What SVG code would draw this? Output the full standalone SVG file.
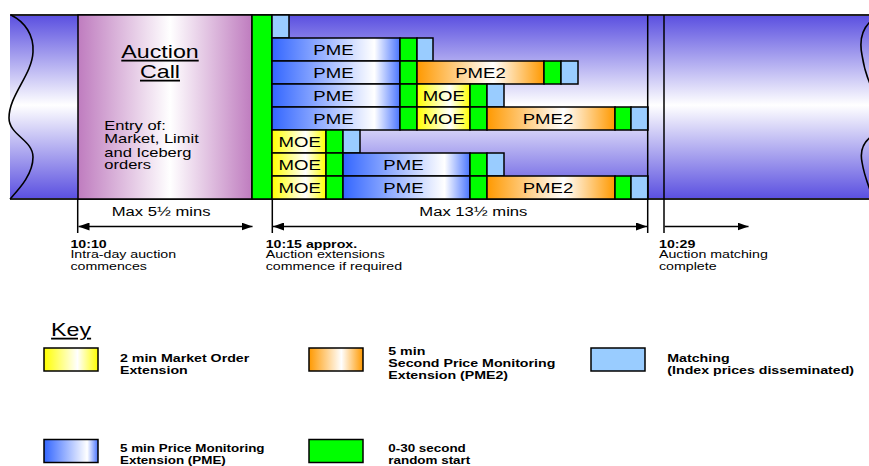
<svg xmlns="http://www.w3.org/2000/svg" width="869" height="466" viewBox="0 0 869 466">
  <style>
    text { font-family: "Liberation Sans", Arial, sans-serif; fill: #000; }
    .box { stroke: #000; stroke-width: 1.5; }
    .g { fill: #00ff00; }
    .lb { fill: #99ccff; }
    .pme { fill: url(#gPME); }
    .moe { fill: url(#gMOE); }
    .pme2 { fill: url(#gPME2); }
    .lbl { font-size: 14.4px; text-anchor: middle; }
    .tl { font-size: 11px; }
    .b { font-weight: bold; }
    .key { font-size: 11px; font-weight: bold; }
    .key.low { font-size: 10.4px; }
    .wave { fill: none; stroke: #000; stroke-width: 1.6; }
    .edge { stroke: #222; stroke-width: 2; }
    .tick { stroke: #000; stroke-width: 1.5; }
    .arrow { stroke: #000; stroke-width: 1.5; fill: none; }
  </style>
  <defs>
    <linearGradient id="gBand" x1="0" y1="0" x2="0" y2="1">
      <stop offset="0" stop-color="#5a4fe0"/>
      <stop offset="0.49" stop-color="#ffffff"/>
      <stop offset="1" stop-color="#5a4fe0"/>
    </linearGradient>
    <linearGradient id="gCall" x1="0" y1="0" x2="1" y2="0">
      <stop offset="0" stop-color="#bf7cbf"/>
      <stop offset="0.53" stop-color="#ffffff"/>
      <stop offset="1" stop-color="#bf7cbf"/>
    </linearGradient>
    <linearGradient id="gPME" x1="0" y1="0" x2="1" y2="0">
      <stop offset="0" stop-color="#3366ff"/>
      <stop offset="0.8" stop-color="#ffffff"/>
      <stop offset="1" stop-color="#4a75ff"/>
    </linearGradient>
    <linearGradient id="gMOE" x1="0" y1="0" x2="1" y2="0">
      <stop offset="0" stop-color="#ffff00"/>
      <stop offset="0.62" stop-color="#ffffff"/>
      <stop offset="1" stop-color="#ffff00"/>
    </linearGradient>
    <linearGradient id="gPME2" x1="0" y1="0" x2="1" y2="0">
      <stop offset="0" stop-color="#ff9900"/>
      <stop offset="0.6" stop-color="#ffffff"/>
      <stop offset="1" stop-color="#ff9900"/>
    </linearGradient>
    <marker id="head" viewBox="0 0 11 8" refX="11" refY="4" markerWidth="11" markerHeight="8" markerUnits="userSpaceOnUse" orient="auto-start-reverse">
      <path d="M0,0 L11,4 L0,8 Z" fill="#000"/>
    </marker>
  </defs>

  <!-- timeline band -->
  <g id="band">
    <rect x="10" y="15" width="870" height="184" fill="url(#gBand)"/>
    <line class="edge" x1="10" y1="15" x2="869" y2="15"/>
    <line class="edge" x1="10" y1="199" x2="869" y2="199"/>
    <path class="wave" d="M11,15 C25,22 34,35 33,52 C32,75 9,95 9,118 C9,135 33,140 33,157 C33,175 18,190 10,199"/>
    <path class="wave" d="M872,20 C860,30 860,45 862,55 C864,68 868,80 872,88"/>
    <path class="wave" d="M872,136 C862,143 860,152 862,162 C864,175 868,185 872,195"/>
  </g>

  <!-- auction call period -->
  <g id="auction-call">
    <rect class="box" x="78" y="15" width="174" height="184" fill="url(#gCall)"/>
  </g>

  <!-- random start after auction call -->
  <g id="random-start">
    <rect class="box g" x="252" y="15" width="20" height="184"/>
  </g>

  <!-- extension scenarios -->
  <g id="row0">
    <rect class="box lb" x="272" y="15" width="17" height="23"/>
  </g>
  <g id="row1">
    <rect class="box pme" x="272" y="38" width="128" height="23"/>
    <rect class="box g" x="400" y="38" width="17" height="23"/>
    <rect class="box lb" x="417" y="38" width="16" height="23"/>
  </g>
  <g id="row2">
    <rect class="box pme" x="272" y="61" width="128" height="23"/>
    <rect class="box g" x="400" y="61" width="17" height="23"/>
    <rect class="box pme2" x="417" y="61" width="127" height="23"/>
    <rect class="box g" x="544" y="61" width="17" height="23"/>
    <rect class="box lb" x="561" y="61" width="17" height="23"/>
  </g>
  <g id="row3">
    <rect class="box pme" x="272" y="84" width="128" height="23"/>
    <rect class="box g" x="400" y="84" width="17" height="23"/>
    <rect class="box moe" x="417" y="84" width="53" height="23"/>
    <rect class="box g" x="470" y="84" width="17" height="23"/>
    <rect class="box lb" x="487" y="84" width="17" height="23"/>
  </g>
  <g id="row4">
    <rect class="box pme" x="272" y="107" width="128" height="23"/>
    <rect class="box g" x="400" y="107" width="17" height="23"/>
    <rect class="box moe" x="417" y="107" width="53" height="23"/>
    <rect class="box g" x="470" y="107" width="17" height="23"/>
    <rect class="box pme2" x="487" y="107" width="128" height="23"/>
    <rect class="box g" x="615" y="107" width="16" height="23"/>
    <rect class="box lb" x="631" y="107" width="17" height="23"/>
  </g>
  <g id="row5">
    <rect class="box moe" x="272" y="130" width="54" height="23"/>
    <rect class="box g" x="326" y="130" width="17" height="23"/>
    <rect class="box lb" x="343" y="130" width="17" height="23"/>
  </g>
  <g id="row6">
    <rect class="box moe" x="272" y="153" width="54" height="23"/>
    <rect class="box g" x="326" y="153" width="17" height="23"/>
    <rect class="box pme" x="343" y="153" width="127" height="23"/>
    <rect class="box g" x="470" y="153" width="17" height="23"/>
    <rect class="box lb" x="487" y="153" width="17" height="23"/>
  </g>
  <g id="row7">
    <rect class="box moe" x="272" y="176" width="54" height="23"/>
    <rect class="box g" x="326" y="176" width="17" height="23"/>
    <rect class="box pme" x="343" y="176" width="127" height="23"/>
    <rect class="box g" x="470" y="176" width="17" height="23"/>
    <rect class="box pme2" x="487" y="176" width="128" height="23"/>
    <rect class="box g" x="615" y="176" width="16" height="23"/>
    <rect class="box lb" x="631" y="176" width="17" height="23"/>
  </g>

  <!-- time markers and duration arrows -->
  <g id="connectors">
    <line class="tick" x1="77.7" y1="199" x2="77.7" y2="233"/>
    <line class="tick" x1="272.3" y1="199" x2="272.3" y2="233"/>
    <line class="tick" x1="647.7" y1="15" x2="647.7" y2="233"/>
    <line class="tick" x1="664" y1="15" x2="664" y2="233"/>
    <line class="arrow" x1="78.5" y1="226.5" x2="252.5" y2="226.5" marker-start="url(#head)" marker-end="url(#head)"/>
    <line class="arrow" x1="273" y1="226.5" x2="647" y2="226.5" marker-start="url(#head)" marker-end="url(#head)"/>
    <line class="arrow" x1="664.7" y1="226.5" x2="748.5" y2="226.5" marker-end="url(#head)"/>
  </g>

  <!-- key swatches -->
  <g id="key-swatches">
    <rect class="box moe" x="44" y="348" width="54" height="23"/>
    <rect class="box pme2" x="309" y="348" width="54" height="23"/>
    <rect class="box lb" x="591" y="348" width="54" height="23"/>
    <rect class="box pme" x="44" y="439.5" width="54" height="23"/>
    <rect class="box g" x="309" y="439.5" width="54" height="23"/>
  </g>

  <!-- all lettering is set in a horizontally widened face -->
  <g id="labels" transform="scale(1.29 1)">
    <text x="124.03" y="58" font-size="18" text-anchor="middle" text-decoration="underline">Auction</text>
    <text x="124.03" y="78" font-size="18" text-anchor="middle" text-decoration="underline">Call</text>
    <text x="80.85" y="130.5" font-size="12.8">Entry of:</text>
    <text x="80.85" y="143.5" font-size="12.8">Market, Limit</text>
    <text x="80.85" y="156.8" font-size="12.8">and Iceberg</text>
    <text x="80.85" y="169.5" font-size="12.8">orders</text>

    <text class="lbl" x="258.5" y="55.5">PME</text>
    <text class="lbl" x="258.5" y="78.5">PME</text>
    <text class="lbl" x="372.48" y="78.5">PME2</text>
    <text class="lbl" x="258.5" y="101.5">PME</text>
    <text class="lbl" x="344.03" y="101.5">MOE</text>
    <text class="lbl" x="258.5" y="124.5">PME</text>
    <text class="lbl" x="344.03" y="124.5">MOE</text>
    <text class="lbl" x="424.8" y="124.5">PME2</text>
    <text class="lbl" x="232.33" y="147.5">MOE</text>
    <text class="lbl" x="232.33" y="170.5">MOE</text>
    <text class="lbl" x="312.79" y="170.5">PME</text>
    <text class="lbl" x="232.33" y="193.5">MOE</text>
    <text class="lbl" x="312.79" y="193.5">PME</text>
    <text class="lbl" x="424.8" y="193.5">PME2</text>

    <text x="86.59" y="216" font-size="12.9">Max 5½ mins</text>
    <text x="325.04" y="216" font-size="12.9">Max 13½ mins</text>

    <text class="tl b" x="54.6" y="247.7">10:10</text>
    <text class="tl" x="54.6" y="258.5">Intra-day auction</text>
    <text class="tl" x="54.6" y="270">commences</text>
    <text class="tl b" x="205.97" y="247.7">10:15 approx.</text>
    <text class="tl" x="205.97" y="258.5">Auction extensions</text>
    <text class="tl" x="205.97" y="270">commence if required</text>
    <text class="tl b" x="510.85" y="247.7">10:29</text>
    <text class="tl" x="510.85" y="258.5">Auction matching</text>
    <text class="tl" x="510.85" y="270">complete</text>

    <text x="39.6" y="336" font-size="18" text-decoration="underline">Key</text>
    <text class="key" x="93.02" y="362.3">2 min Market Order</text>
    <text class="key" x="93.02" y="374">Extension</text>
    <text class="key" x="301" y="355">5 min</text>
    <text class="key" x="301" y="367">Second Price Monitoring</text>
    <text class="key" x="301" y="378.5">Extension (PME2)</text>
    <text class="key" x="517.3" y="362.3">Matching</text>
    <text class="key" x="517.3" y="374">(Index prices disseminated)</text>
    <text class="key low" x="93.02" y="452">5 min Price Monitoring</text>
    <text class="key low" x="93.02" y="463.8">Extension (PME)</text>
    <text class="key low" x="301" y="452">0-30 second</text>
    <text class="key low" x="301" y="463.8">random start</text>
  </g>
</svg>
